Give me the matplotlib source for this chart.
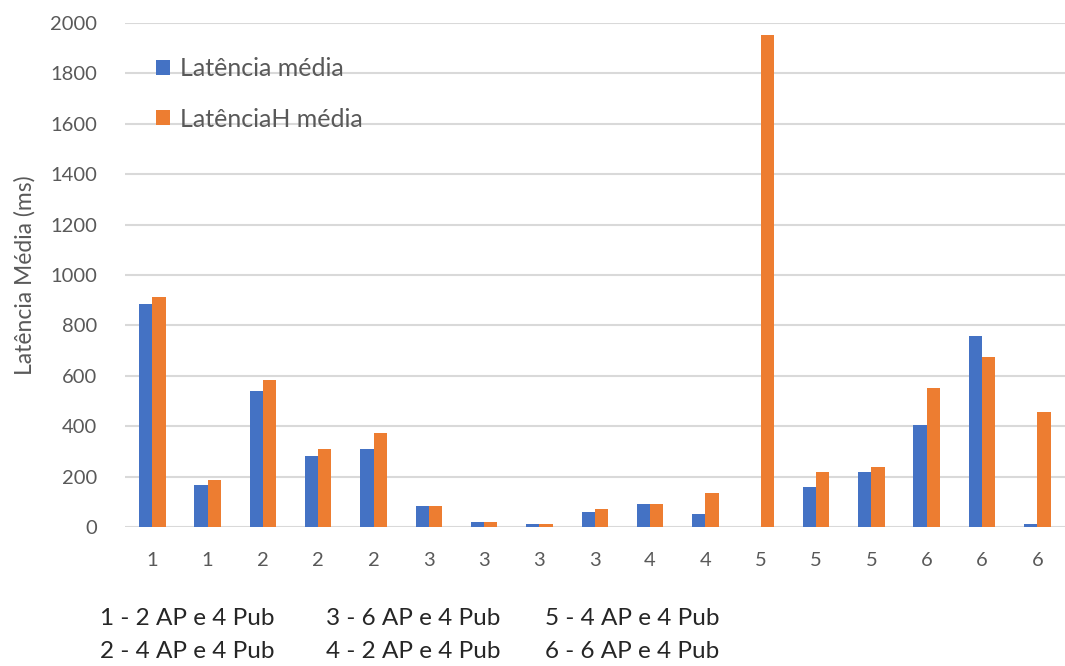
import matplotlib.pyplot as plt
import numpy as np

plt.rcParams['font.family'] = ['Lato', 'DejaVu Sans']

# cenario de cada medicao (eixo x)
cenarios = ['1', '1', '2', '2', '2', '3', '3', '3', '3', '4', '4', '5', '5', '5', '6', '6', '6']

# latencias medias em ms
latencia = [884, 165, 541, 280, 309, 84, 20, 10, 61, 93, 50, 0, 157, 219, 405, 759, 12]
latencia_h = [914, 186, 582, 309, 374, 84, 20, 10, 71, 93, 134, 1951, 219, 240, 551, 674, 458]

legenda_cenarios = [
    ['1 - 2 AP e 4 Pub', '3 - 6 AP e 4 Pub', '5 - 4 AP e 4 Pub'],
    ['2 - 4 AP e 4 Pub', '4 - 2 AP e 4 Pub', '6 - 6 AP e 4 Pub'],
]

azul = '#4472C4'
laranja = '#ED7D31'
cinza = '#595959'

fig = plt.figure(figsize=(10.65, 6.66), dpi=100)
ax = fig.add_axes([0.117, 0.2087, 0.883, 0.7568])

x = np.arange(len(cenarios))
w = 0.24
ax.bar(x - w / 2, latencia, w, color=azul, label='Latência média', zorder=3)
ax.bar(x + w / 2, latencia_h, w, color=laranja, label='LatênciaH média', zorder=3)

ax.set_xlim(-0.5, len(cenarios) - 0.5)
ax.set_ylim(0, 2000)
ax.set_yticks(np.arange(0, 2001, 200))
ax.set_xticks(x)
ax.set_xticklabels(cenarios)
ax.tick_params(axis='both', length=0, labelsize=14.5, labelcolor=cinza)
ax.tick_params(axis='x', pad=18)
ax.tick_params(axis='y', pad=20)
ax.grid(axis='y', color='#d9d9d9', linewidth=1.5, zorder=0)
for s in ax.spines.values():
    s.set_visible(False)

ax.set_ylabel('Latência Média (ms)', fontsize=16.5, color=cinza, labelpad=10)

ax.legend(loc='upper left', bbox_to_anchor=(0.012, 0.972), frameon=False,
          fontsize=18, labelcolor=cinza, handlelength=0.55, handleheight=0.55,
          handletextpad=0.4, labelspacing=1.1, borderpad=0.3)

# legenda dos cenarios abaixo do grafico
col_x = [100, 326, 545]
lin_y = [625, 658]
for i, linha in enumerate(legenda_cenarios):
    for j, txt in enumerate(linha):
        fig.text(col_x[j] / 1065, 1 - lin_y[i] / 666, txt, fontsize=17.5,
                 color='#262626', ha='left', va='baseline')

fig.savefig('out.png', dpi=100)
